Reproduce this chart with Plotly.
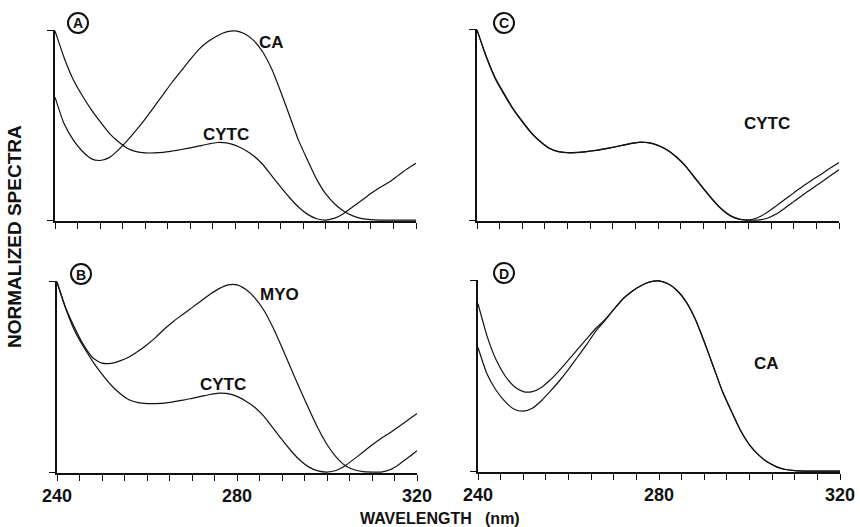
import plotly.graph_objects as go

# ---------------- data ----------------
wavelength = list(range(240, 321, 2))

cytc_a = [1.0, 0.86, 0.745, 0.66, 0.585, 0.52, 0.46, 0.415, 0.38, 0.362,
          0.355, 0.355, 0.358, 0.365, 0.373, 0.382, 0.392, 0.402, 0.41, 0.408,
          0.395, 0.372, 0.34, 0.295, 0.235, 0.175, 0.118, 0.068, 0.03, 0.007,
          0.0, 0.01, 0.035, 0.07, 0.105, 0.14, 0.172, 0.2, 0.235, 0.27, 0.30]

ca_a = [0.65, 0.51, 0.425, 0.365, 0.325, 0.315, 0.33, 0.37, 0.42, 0.475,
        0.535, 0.6, 0.665, 0.73, 0.79, 0.85, 0.905, 0.945, 0.975, 0.995,
        1.0, 0.985, 0.95, 0.89, 0.8, 0.68, 0.55, 0.42, 0.315, 0.215,
        0.138, 0.085, 0.047, 0.022, 0.008, 0.002, 0.0, 0.0, 0.0, 0.0, 0.0]

myo_b = [1.0, 0.86, 0.755, 0.665, 0.6, 0.573, 0.572, 0.585, 0.605, 0.635,
         0.67, 0.71, 0.755, 0.795, 0.83, 0.865, 0.9, 0.935, 0.965, 0.985,
         0.985, 0.96, 0.915, 0.85, 0.76, 0.655, 0.545, 0.435, 0.33, 0.23,
         0.145, 0.08, 0.035, 0.012, 0.002, 0.0, 0.0, 0.012, 0.04, 0.075, 0.112]

cytc_b = [1.0, 0.855, 0.74, 0.655, 0.58, 0.515, 0.458, 0.413, 0.38, 0.365,
          0.36, 0.36, 0.363, 0.37, 0.378, 0.388, 0.398, 0.408, 0.415, 0.413,
          0.398, 0.373, 0.34, 0.293, 0.232, 0.17, 0.112, 0.062, 0.026, 0.006,
          0.0, 0.008, 0.033, 0.068, 0.105, 0.142, 0.176, 0.207, 0.24, 0.274, 0.308]

cytc_c1 = [1.0, 0.865, 0.75, 0.665, 0.585, 0.52, 0.46, 0.413, 0.378, 0.36,
           0.355, 0.356, 0.36, 0.366, 0.374, 0.383, 0.393, 0.403, 0.41, 0.407,
           0.393, 0.37, 0.335, 0.288, 0.228, 0.168, 0.11, 0.06, 0.024, 0.005,
           0.0, 0.012, 0.038, 0.072, 0.108, 0.143, 0.178, 0.21, 0.24, 0.272, 0.303]

cytc_c2 = [1.0, 0.86, 0.745, 0.66, 0.582, 0.517, 0.458, 0.412, 0.377, 0.36,
           0.354, 0.355, 0.359, 0.365, 0.373, 0.382, 0.392, 0.402, 0.409, 0.406,
           0.392, 0.368, 0.332, 0.285, 0.225, 0.165, 0.108, 0.058, 0.022, 0.004,
           0.0, 0.0, 0.008, 0.03, 0.062, 0.097, 0.132, 0.165, 0.198, 0.232, 0.265]

ca_d1 = [0.88, 0.71, 0.585, 0.5, 0.445, 0.418, 0.418, 0.44, 0.48, 0.53,
         0.585, 0.64, 0.695, 0.75, 0.795, 0.85, 0.905, 0.945, 0.975, 0.995,
         1.0, 0.985, 0.95, 0.89, 0.8, 0.68, 0.55, 0.42, 0.315, 0.215,
         0.138, 0.085, 0.047, 0.022, 0.008, 0.002, 0.0, 0.0, 0.0, 0.0, 0.0]

ca_d2 = [0.65, 0.51, 0.425, 0.365, 0.325, 0.315, 0.33, 0.37, 0.42, 0.475,
         0.535, 0.6, 0.665, 0.735, 0.79, 0.85, 0.905, 0.945, 0.975, 0.995,
         1.0, 0.985, 0.95, 0.89, 0.8, 0.68, 0.55, 0.42, 0.315, 0.215,
         0.138, 0.085, 0.047, 0.022, 0.008, 0.002, 0.0, 0.0, 0.0, 0.0, 0.0]

x_ticks = list(range(240, 321, 5))
x_tick_labels = ["240", "280", "320"]

panel_letters = ["A", "B", "C", "D"]
panels = {
    "A": ("", [ca_a, cytc_a], [("CA", 271, 43), ("CYTC", 226, 134)]),
    "B": ("2", [myo_b, cytc_b], [("MYO", 279, 294), ("CYTC", 223, 384)]),
    "C": ("3", [cytc_c1, cytc_c2], [("CYTC", 767, 123)]),
    "D": ("4", [ca_d1, ca_d2], [("CA", 766, 363)]),
}

# ---------------- layout geometry (pixels) ----------------
W, H = 860, 527
FONT = "Liberation Sans, Arial, Helvetica, sans-serif"
INK = "#111111"

domains = {
    "A": ((55, 416), (30, 221)),
    "B": ((57, 417), (281, 473)),
    "C": ((477, 839), (29, 221)),
    "D": ((478, 840), (280, 472)),
}
circle_centers = {"A": (78, 23), "B": (81, 274), "C": (504, 23), "D": (504, 273)}

fig = go.Figure()
layout = dict(
    template="none",
    width=W, height=H, margin=dict(l=0, r=0, t=0, b=0, pad=0, autoexpand=False),
    paper_bgcolor="white", plot_bgcolor="white", showlegend=False,
    font=dict(family=FONT, color=INK),
)

annotations = []
shapes = []

def px_x(x):
    return x / W

def px_y(y):
    return 1 - y / H

for name in panel_letters:
    suffix, curves, labels = panels[name]
    (x0, x1), (y0, y1) = domains[name]
    bottom = name in ("B", "D")
    for ys in curves:
        fig.add_trace(go.Scatter(
            x=wavelength, y=ys, mode="lines",
            line=dict(color=INK, width=1.2, shape="spline", smoothing=0.6),
            xaxis="x" + suffix, yaxis="y" + suffix, hoverinfo="skip",
        ))
    ticktext = [(f"<b>{v}</b>" if (bottom and str(v) in x_tick_labels) else "") for v in x_ticks]
    layout["xaxis" + suffix] = dict(
        domain=[px_x(x0), px_x(x1)], anchor="y" + suffix, range=[240, 320],
        tickmode="array", tickvals=x_ticks, ticktext=ticktext, ticks="outside", ticklen=6,
        tickwidth=1.3, tickcolor=INK, showline=True, linecolor=INK, linewidth=1.6,
        showgrid=False, zeroline=False, automargin=False, showticklabels=True,
        tickfont=dict(size=18, family=FONT, color=INK),
    )
    layout["yaxis" + suffix] = dict(
        domain=[px_y(y1), px_y(y0)], anchor="x" + suffix, range=[-0.005, 1.005],
        tickmode="array", tickvals=[0, 1], ticktext=["", ""], ticks="outside", ticklen=6,
        tickwidth=1.3, tickcolor=INK, showline=True, linecolor=INK, linewidth=1.6,
        showgrid=False, zeroline=False, automargin=False,
    )
    for text, lx, ly in labels:
        annotations.append(dict(
            text=f"<b>{text}</b>", x=px_x(lx), y=px_y(ly), xref="paper", yref="paper",
            showarrow=False, xanchor="center", yanchor="middle",
            font=dict(size=17, family=FONT, color=INK),
        ))
    cx, cy = circle_centers[name]
    r = 10
    shapes.append(dict(
        type="circle", xref="paper", yref="paper",
        x0=px_x(cx - r), x1=px_x(cx + r), y0=px_y(cy + r), y1=px_y(cy - r),
        line=dict(color=INK, width=2),
    ))
    annotations.append(dict(
        text=f"<b>{name}</b>", x=px_x(cx), y=px_y(cy + 0.5), xref="paper", yref="paper",
        showarrow=False, xanchor="center", yanchor="middle",
        font=dict(size=14, family=FONT, color=INK),
    ))

annotations.append(dict(
    text="<b>WAVELENGTH&nbsp;&nbsp;&nbsp;(nm)</b>", x=px_x(440), y=px_y(518),
    xref="paper", yref="paper", showarrow=False, xanchor="center", yanchor="middle",
    font=dict(size=16, family=FONT, color=INK),
))
annotations.append(dict(
    text="<b>NORMALIZED SPECTRA</b>", x=px_x(14), y=px_y(237), textangle=-90,
    xref="paper", yref="paper", showarrow=False, xanchor="center", yanchor="middle",
    font=dict(size=19, family=FONT, color=INK),
))

layout["annotations"] = annotations
layout["shapes"] = shapes
fig.update_layout(**layout)
fig.write_html("out.html")
